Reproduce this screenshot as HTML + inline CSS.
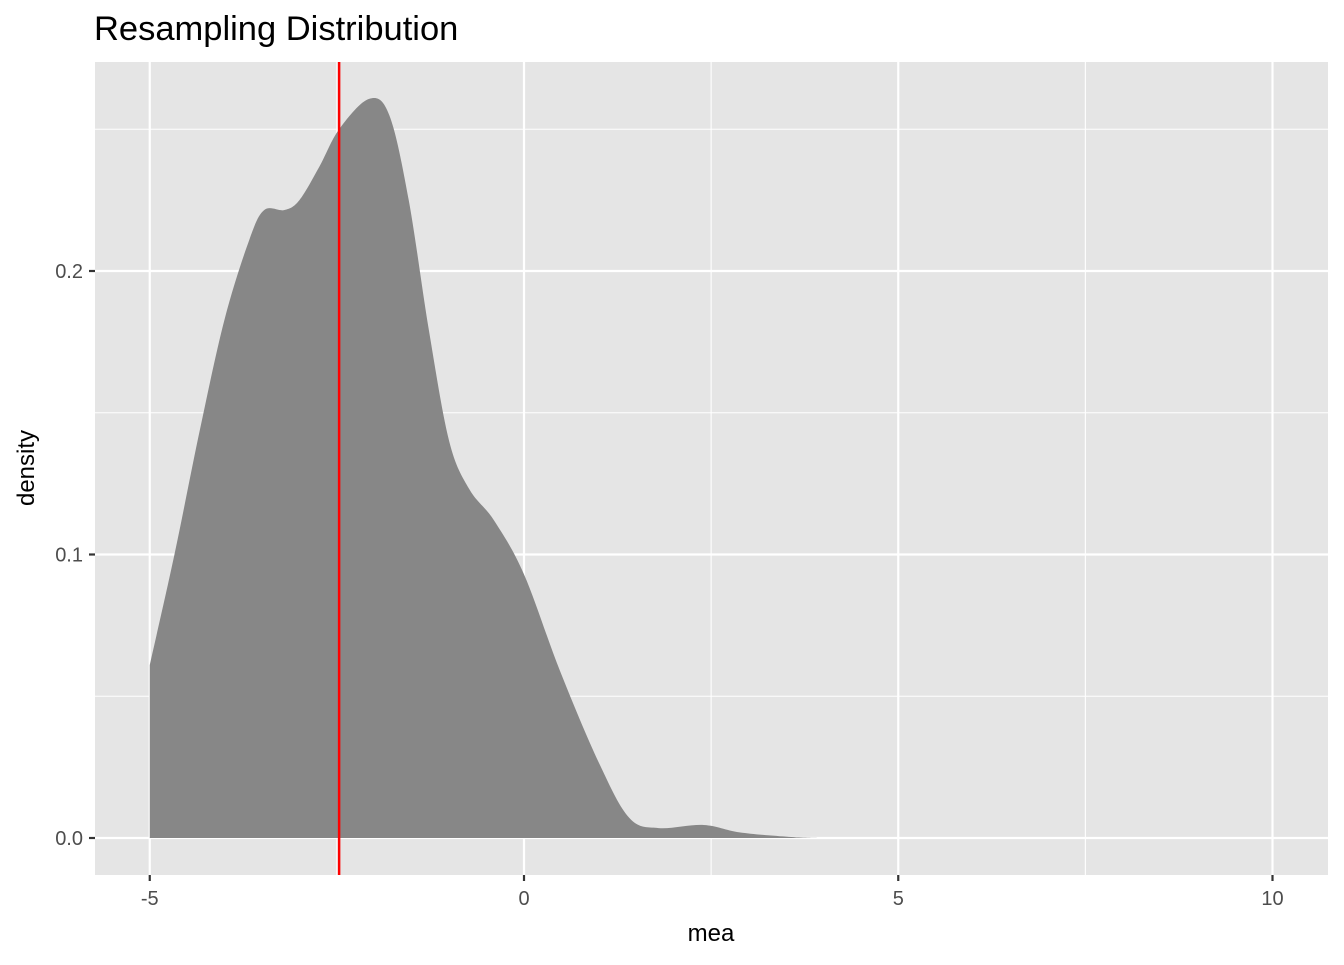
<!DOCTYPE html>
<html><head><meta charset="utf-8"><style>
body{margin:0;background:#fff;}
svg text{font-family:"Liberation Sans",Arial,sans-serif;}
</style></head><body>
<svg id="chart" width="1344" height="960" viewBox="0 0 1344 960">
<rect x="0" y="0" width="1344" height="960" fill="#fff"/>
<text x="94" y="40" font-size="34.5" fill="#000">Resampling Distribution</text>
<rect x="95" y="62" width="1233" height="813" fill="#e5e5e5"/>
<g id="grid"></g>
<path id="area" fill="#878787"/>
<line id="vline" stroke="#ff0000" stroke-width="2.5"/>
<g id="axes"></g>
<text x="711" y="941" font-size="24" text-anchor="middle">mea</text>
<text transform="translate(34,468) rotate(-90)" font-size="24" text-anchor="middle">density</text>
</svg>
<script>
const xTicks=[-5,0,5,10];
const xMinor=[-2.5,2.5,7.5];
const yTicks=[0,0.1,0.2];
const yTickLabels=["0.0","0.1","0.2"];
const yMinor=[0.05,0.15,0.25];
const xs=[-5,-4.67,-4.33,-4.0,-3.67,-3.47,-3.2,-3.0,-2.73,-2.47,-2.07,-1.8,-1.54,-1.27,-1.0,-0.73,-0.4,0,0.48,1.01,1.41,1.8,2.4,2.88,3.54,3.95];
const ds=[0.061,0.1,0.144,0.183,0.211,0.2215,0.2215,0.225,0.237,0.25,0.2607,0.255,0.225,0.179,0.14,0.123,0.112,0.093,0.059,0.026,0.007,0.0035,0.0046,0.002,0.0004,0];
const meanValue=-2.47;
const X=v=>524+v*74.85, Y=v=>838-v*2835;
const NS="http://www.w3.org/2000/svg";
const grid=document.getElementById('grid'), axes=document.getElementById('axes');
function ln(p,x1,y1,x2,y2,c,w){const l=document.createElementNS(NS,'line');l.setAttribute('x1',x1);l.setAttribute('y1',y1);l.setAttribute('x2',x2);l.setAttribute('y2',y2);l.setAttribute('stroke',c);l.setAttribute('stroke-width',w);p.appendChild(l);return l;}
function tx(p,x,y,s,a){const t=document.createElementNS(NS,'text');t.setAttribute('x',x);t.setAttribute('y',y);t.setAttribute('font-size',20);t.setAttribute('fill','#4d4d4d');t.setAttribute('text-anchor',a);t.textContent=s;p.appendChild(t);return t;}
xMinor.forEach(v=>{const l=ln(grid,X(v),62,X(v),875,'#fff',1.1);

});
yMinor.forEach(v=>{const l=ln(grid,95,Y(v),1328,Y(v),'#fff',1.1);

});
xTicks.forEach(v=>{const l=ln(grid,X(v),62,X(v),875,'#fff',2.2);


const k=ln(axes,X(v),875,X(v),881,'#333',2.2);


const t=tx(axes,X(v),905,String(v),'middle');

});
yTicks.forEach((v,i)=>{const l=ln(grid,95,Y(v),1328,Y(v),'#fff',2.2);


const k=ln(axes,89,Y(v),95,Y(v),'#333',2.2);


const t=tx(axes,83,Y(v)+7,yTickLabels[i],'end');

});
const P=xs.map((x,i)=>[X(x),Y(ds[i])]);
let d=`M${X(xs[0])},${Y(0)} L${P[0][0]},${P[0][1]}`;
for(let i=0;i<P.length-1;i++){const p0=P[Math.max(0,i-1)],p1=P[i],p2=P[i+1],p3=P[Math.min(P.length-1,i+2)];
const c1=[p1[0]+(p2[0]-p0[0])/6,p1[1]+(p2[1]-p0[1])/6],c2=[p2[0]-(p3[0]-p1[0])/6,p2[1]-(p3[1]-p1[1])/6];
d+=` C${c1[0]},${c1[1]} ${c2[0]},${c2[1]} ${p2[0]},${p2[1]}`;}
d+=` L${X(xs[xs.length-1])},${Y(0)} Z`;
document.getElementById('area').setAttribute('d',d);
const vl=document.getElementById('vline');
vl.setAttribute('x1',X(meanValue));vl.setAttribute('x2',X(meanValue));vl.setAttribute('y1',62);vl.setAttribute('y2',875);
</script>
</body></html>
